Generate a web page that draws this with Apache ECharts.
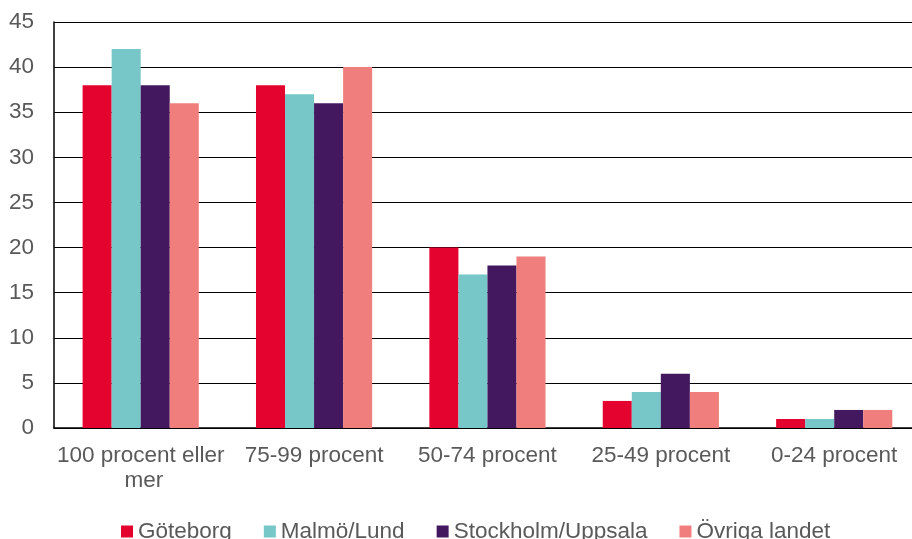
<!DOCTYPE html>
<html>
<head>
<meta charset="utf-8">
<script src="https://cdn.jsdelivr.net/npm/echarts@6/dist/echarts.min.js"></script>
<style>html,body{margin:0;padding:0;background:#fff;overflow:hidden;width:912px;height:539px}#c{width:923px;height:539px}</style>
</head>
<body>
<div id="c"></div>
<script>
var categories = ['100 procent eller mer', '75-99 procent', '50-74 procent', '25-49 procent', '0-24 procent'];
var seriesNames = ['Göteborg', 'Malmö/Lund', 'Stockholm/Uppsala', 'Övriga landet'];
var goteborg = [38, 38, 20, 3, 1];
var malmoLund = [42, 37, 17, 4, 1];
var stockholmUppsala = [38, 36, 18, 6, 2];
var ovrigaLandet = [36, 40, 19, 4, 2];
var colors = ['#E4032E', '#77C6C8', '#43185F', '#EF7E7C'];
var yTicks = [0, 5, 10, 15, 20, 25, 30, 35, 40, 45];

var values = [goteborg, malmoLund, stockholmUppsala, ovrigaLandet];
var chart = echarts.init(document.getElementById('c'));
var font = 'Liberation Sans, Arial, sans-serif';
chart.setOption({
  animation: false,
  textStyle: {fontFamily: font},
  grid: {left: 54, right: 0, top: 22, bottom: 111, containLabel: false},
  legend: {
    top: 515, left: 116,
    itemWidth: 12, itemHeight: 12, itemGap: 32,
    icon: 'rect',
    textStyle: {fontSize: 22.5, color: '#595959', fontFamily: font},
    data: seriesNames
  },
  xAxis: {
    type: 'category', data: categories,
    axisLine: {lineStyle: {color: '#000', width: 1.5}},
    axisTick: {show: false},
    axisLabel: {fontSize: 22.5, color: '#595959', margin: 15, lineHeight: 25,
      width: 172, overflow: 'break', interval: 0}
  },
  yAxis: {
    type: 'value', min: yTicks[0], max: yTicks[yTicks.length - 1], interval: 5,
    axisLine: {show: true, lineStyle: {color: '#000', width: 1.5}},
    axisTick: {show: false},
    splitLine: {lineStyle: {color: '#000', width: 1.2}},
    axisLabel: {fontSize: 22.5, color: '#595959', margin: 20}
  },
  series: seriesNames.map(function (n, i) {
    return {
      name: n, type: 'bar', data: values[i],
      itemStyle: {color: colors[i]},
      barGap: '0%', barCategoryGap: '33%'
    };
  })
});
</script>
</body>
</html>
